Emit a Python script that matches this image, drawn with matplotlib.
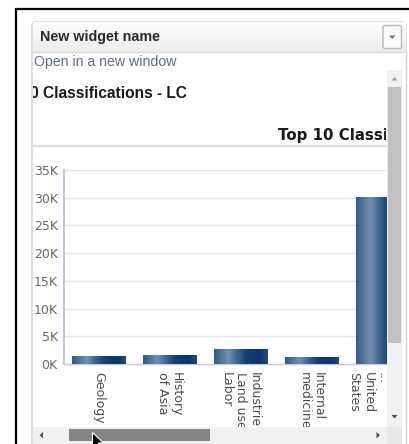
import numpy as np
import matplotlib
matplotlib.use("Agg")
import matplotlib.pyplot as plt
from matplotlib.patches import Rectangle, FancyBboxPatch, Polygon
from matplotlib.colors import LinearSegmentedColormap
from matplotlib.transforms import Bbox, TransformedBbox
from matplotlib.ticker import FuncFormatter

# ---- data ----
categories = ["Geology", "History\nof Asia", "Industries.\nLand use.\nLabor",
              "Internal\nmedicine", "History of\nthe Americas\n...\nUnited\nStates"]
counts = [1300, 1600, 2700, 1150, 30100]
y_ticks = [0, 5000, 10000, 15000, 20000, 25000, 30000, 35000]
widget_title = "New widget name"
link_text = "Open in a new window"
chart_title = "Top 10 Classifications - LC"

W, H = 409, 444
fig = plt.figure(figsize=(W / 100, H / 100), dpi=100)
fig.patch.set_facecolor("white")

# ---- background chrome axes (pixel coords, y down) ----
bg = fig.add_axes([0, 0, 1, 1], zorder=0)
bg.set_xlim(0, W); bg.set_ylim(H, 0); bg.axis("off")

# outer black frame
bg.plot([15.5, 15.5, W + 2], [H + 2, 9.5, 9.5], color="black", lw=1.6,
        solid_joinstyle="miter", clip_on=False)
# panel
bg.add_patch(FancyBboxPatch((32, 22), 374, H, boxstyle="round,pad=0,rounding_size=3",
                            fc="white", ec="#d2d2d2", lw=1.0))
# header gradient
grad = np.linspace(0, 1, 64).reshape(-1, 1)
hcm = LinearSegmentedColormap.from_list("h", ["#fdfdfd", "#ededed"])
bg.imshow(grad, cmap=hcm, extent=(32.5, 405.5, 52, 22.5), aspect="auto", zorder=1)
bg.plot([32.5, 405.5], [52.5, 52.5], color="#d8d8d8", lw=1.0, zorder=2)
bg.text(40, 37, widget_title, fontsize=10.3, fontweight="bold", color="#2b2b2b",
        family="Liberation Sans", va="center", ha="left", zorder=3)
# dropdown button
bg.add_patch(FancyBboxPatch((383, 25.5), 18.5, 23, boxstyle="round,pad=0,rounding_size=2",
                            fc="#fbfbfb", ec="#b8b8b8", lw=1.0, zorder=3))
bg.add_patch(Polygon([[389, 35.5], [395.5, 35.5], [392.25, 39]], closed=True,
                     fc="#707070", ec="none", zorder=4))
# link
bg.text(33.5, 62, link_text, fontsize=10.2, color="#5a6d92",
        family="Liberation Sans", va="center", ha="left", zorder=3)

clipbox = TransformedBbox(Bbox([[32.5 / W, 0], [386 / W, 1]]), fig.transFigure)
t1 = bg.text(187, 98.3, chart_title, fontsize=11.2, fontweight="bold", color="#1a1a1a",
             family="Liberation Sans", va="baseline", ha="right", zorder=3)
t1.set_clip_on(True); t1.set_clip_box(clipbox)
t2 = bg.text(278, 140, chart_title, fontsize=10.8, fontweight="bold", color="#1a1a1a",
             family="DejaVu Sans", va="baseline", ha="left", zorder=3)
t2.set_clip_on(True); t2.set_clip_box(clipbox)
bg.plot([32.5, 386], [146.5, 146.5], color="#dcdcee", lw=1.6, zorder=3)

# ---- chart axes ----
ax = fig.add_axes([64 / W, (H - 364) / H, (386 - 64) / W, (364 - 170) / H], zorder=1)
ax.set_facecolor("none")
x = np.arange(len(categories))
bars = ax.bar(x, counts, width=0.75, color="#1a4576", zorder=2)
bcm = LinearSegmentedColormap.from_list(
    "b", [(0.0, "#2f5b88"), (0.12, "#4d7299"), (0.27, "#7591b0"), (0.42, "#3d6691"),
          (0.6, "#173f6f"), (0.85, "#0b366a"), (1.0, "#214b7a")])
hgrad = np.linspace(0, 1, 128).reshape(1, -1)
for b in bars:
    x0, w, h = b.get_x(), b.get_width(), b.get_height()
    ax.imshow(hgrad, cmap=bcm, extent=(x0, x0 + w, 0, h), aspect="auto", zorder=3)
ax.set_xlim(-0.487, 4.05)
ax.set_ylim(0, 35000)
ax.set_yticks(y_ticks)
ax.yaxis.set_major_formatter(FuncFormatter(lambda v, p: f"{int(v / 1000)}K"))
ax.grid(axis="y", color="#e4e4f2", lw=1.0, zorder=0)
ax.set_axisbelow(True)
for s in ["top", "right"]:
    ax.spines[s].set_visible(False)
ax.spines["left"].set_color("#bdbddb"); ax.spines["left"].set_linewidth(1.3)
ax.spines["bottom"].set_color("#c8c8dc"); ax.spines["bottom"].set_linewidth(1.0)
ax.tick_params(axis="y", length=0, pad=4.5, labelsize=9, labelcolor="#666666")
ax.tick_params(axis="x", length=0, pad=5.5)
ax.set_xticks(x)
ax.set_xticklabels(categories, rotation=-90, va="top", ha="center", fontsize=9,
                   color="#4d4d4d", multialignment="left", linespacing=1.12)

# ---- foreground chrome (scrollbars) ----
fg = fig.add_axes([0, 0, 1, 1], zorder=2)
fg.set_xlim(0, W); fg.set_ylim(H, 0); fg.axis("off"); fg.set_facecolor("none")
# mask right of the content area
fg.add_patch(Rectangle((402, 53), 10, 400, fc="white", ec="none"))
fg.plot([406, 406], [53, H + 2], color="#d2d2d2", lw=1.0)
# vertical scrollbar
fg.add_patch(Rectangle((386.5, 70), 15.5, 357, fc="#f1f1f1", ec="none"))
fg.add_patch(Rectangle((388, 87.5), 12.5, 255, fc="#c1c1c1", ec="none"))
fg.add_patch(Polygon([[391.5, 80.5], [397.5, 80.5], [394.5, 77]], fc="#a0a0a0", ec="none"))
fg.add_patch(Polygon([[391.5, 415], [397.5, 415], [394.5, 418.5]], fc="#505050", ec="none"))
# horizontal scrollbar
fg.add_patch(Rectangle((32.5, 427), 354, 17, fc="#f1f1f1", ec="none"))
fg.add_patch(Rectangle((386.5, 427), 15.5, 17, fc="#e8e8e8", ec="none"))
fg.add_patch(Rectangle((69, 428.5), 140.5, 12.5, fc="#858585", ec="none"))
fg.add_patch(Polygon([[43, 432], [43, 438.5], [39.5, 435.25]], fc="#505050", ec="none"))
fg.add_patch(Polygon([[376.5, 432], [376.5, 438.5], [380, 435.25]], fc="#505050", ec="none"))
# mouse cursor
cur = np.array([[0, 0], [0, 15], [3.5, 11.5], [6, 17], [8.5, 16], [6, 10.5], [11, 10.5]])
fg.add_patch(Polygon(cur + [92.5, 432.5], closed=True, fc="black", ec="white", lw=0.8))

fig.savefig("out.png", dpi=100, facecolor="white")
